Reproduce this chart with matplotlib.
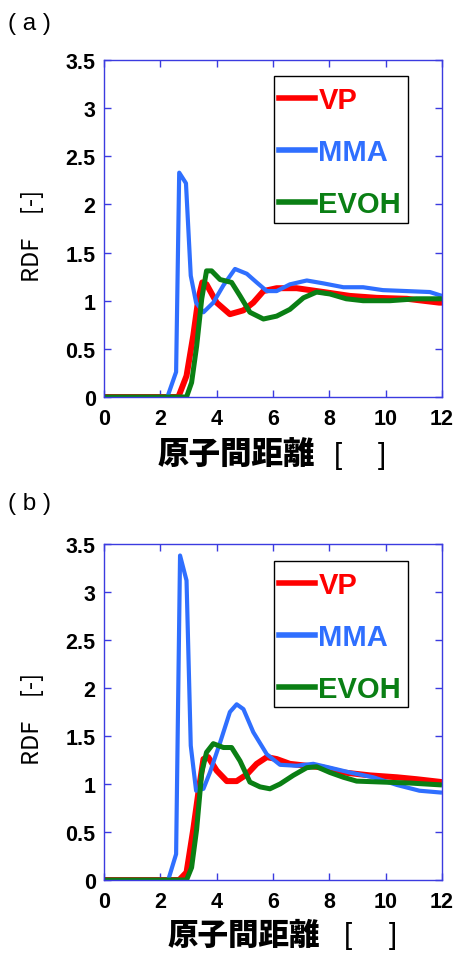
import matplotlib
matplotlib.use("Agg")
import matplotlib.pyplot as plt
from matplotlib.lines import Line2D
from matplotlib.patches import Rectangle

# ---------------- data ----------------
# panel (a)
a_vp_x = [0, 2.64, 2.93, 3.17, 3.35, 3.49, 3.64, 4.0, 4.47, 4.95, 5.3, 5.66, 6.13, 6.84, 7.8, 8.73, 9.68, 10.75, 11.9, 12]
a_vp_y = [0, 0, 0.22, 0.64, 1.02, 1.19, 1.17, 0.98, 0.86, 0.90, 0.98, 1.10, 1.13, 1.13, 1.09, 1.05, 1.03, 1.02, 0.98, 0.98]

a_mma_x = [0, 2.25, 2.56, 2.67, 2.91, 3.08, 3.27, 3.53, 3.88, 4.24, 4.65, 5.07, 5.42, 5.78, 6.13, 6.6, 7.2, 7.79, 8.5, 9.2, 9.9, 10.75, 11.57, 12]
a_mma_y = [0, 0, 0.26, 2.33, 2.22, 1.26, 0.98, 0.88, 0.98, 1.16, 1.33, 1.28, 1.19, 1.10, 1.10, 1.17, 1.21, 1.18, 1.14, 1.14, 1.11, 1.10, 1.09, 1.05]

a_evoh_x = [0, 2.93, 3.11, 3.29, 3.47, 3.64, 3.82, 4.12, 4.53, 4.83, 5.18, 5.66, 6.13, 6.6, 7.08, 7.55, 8.02, 8.6, 9.2, 10.15, 11.1, 12]
a_evoh_y = [0, 0, 0.15, 0.53, 1.02, 1.31, 1.31, 1.22, 1.19, 1.05, 0.88, 0.81, 0.84, 0.91, 1.03, 1.09, 1.07, 1.02, 1.00, 1.00, 1.02, 1.02]

# panel (b)
b_vp_x = [0, 2.67, 2.93, 3.17, 3.35, 3.53, 3.7, 4.0, 4.36, 4.71, 5.07, 5.42, 5.78, 6.13, 6.6, 7.2, 7.8, 8.5, 9.44, 10.4, 11.1, 12]
b_vp_y = [0, 0, 0.08, 0.53, 0.91, 1.26, 1.28, 1.14, 1.03, 1.03, 1.10, 1.21, 1.28, 1.26, 1.21, 1.19, 1.17, 1.12, 1.09, 1.07, 1.05, 1.02]

b_mma_x = [0, 2.28, 2.56, 2.7, 2.93, 3.08, 3.27, 3.53, 3.76, 4.12, 4.47, 4.71, 4.95, 5.3, 5.78, 6.25, 6.84, 7.43, 8.02, 8.73, 9.56, 10.4, 11.2, 12]
b_mma_y = [0, 0, 0.27, 3.38, 3.12, 1.40, 0.93, 0.95, 1.12, 1.43, 1.75, 1.83, 1.78, 1.54, 1.31, 1.20, 1.19, 1.21, 1.17, 1.12, 1.07, 0.99, 0.93, 0.91]

b_evoh_x = [0, 2.93, 3.11, 3.29, 3.47, 3.64, 3.88, 4.24, 4.53, 4.83, 5.18, 5.54, 5.89, 6.25, 6.72, 7.2, 7.55, 8.02, 8.5, 8.97, 9.9, 10.86, 12]
b_evoh_y = [0, 0, 0.13, 0.53, 1.12, 1.33, 1.42, 1.38, 1.38, 1.24, 1.02, 0.97, 0.95, 1.00, 1.09, 1.17, 1.18, 1.12, 1.07, 1.03, 1.02, 1.01, 0.99]

series_labels = ["VP", "MMA", "EVOH"]
panel_labels = ["( a )", "( b )"]
x_ticks = [0, 2, 4, 6, 8, 10, 12]
y_ticks = [0, 0.5, 1, 1.5, 2, 2.5, 3, 3.5]
y_tick_labels = ["0", "0.5", "1", "1.5", "2", "2.5", "3", "3.5"]
xlabel_main = "原子間距離"
xlabel_brackets = ["[", "]"]
ylabel = "RDF　[-]"

# ---------------- style ----------------
colors = ["#FF0000", "#2F6FFF", "#0A7F14"]
widths = [4.3, 3.0, 3.6]
spine_color = "#3B3BE0"
cjk = ["Noto Sans CJK JP", "DejaVu Sans"]

fig = plt.figure(figsize=(4.57, 9.54), dpi=100)
W, H = 457, 954

def fx(px):
    return px / W

def fy(py):
    return 1 - py / H

panels = [
    dict(top=61, bottom=398, data=[(a_vp_x, a_vp_y), (a_mma_x, a_mma_y), (a_evoh_x, a_evoh_y)],
         label_y=24, xl_y=455, xl_x=158, br=(338, 382), leg_top=77, leg_bot=224, xl_size=22.7),
    dict(top=545, bottom=881, data=[(b_vp_x, b_vp_y), (b_mma_x, b_mma_y), (b_evoh_x, b_evoh_y)],
         label_y=504, xl_y=935, xl_x=168, br=(348, 393), leg_top=562, leg_bot=708, xl_size=22),
]

for i, p in enumerate(panels):
    left, right = 104, 442
    aw, ah = right - left, p["bottom"] - p["top"]
    ax = fig.add_axes([fx(left), fy(p["bottom"]), aw / W, ah / H])
    for (xs, ys), c, lw, lab in zip(p["data"], colors, widths, series_labels):
        ax.plot(xs, ys, color=c, lw=lw, label=lab, solid_joinstyle="round", solid_capstyle="butt")
    ax.set_xlim(0, 12)
    ax.set_ylim(0, 3.5)
    ax.set_xticks(x_ticks)
    ax.set_yticks(y_ticks)
    ax.set_yticklabels(y_tick_labels)
    for s in ax.spines.values():
        s.set_color(spine_color)
        s.set_linewidth(1.0)
    ax.tick_params(direction="in", length=5, width=1.0, color=spine_color,
                   top=True, right=True, labelsize=15.5)
    ax.tick_params(axis="x", pad=8)
    ax.tick_params(axis="y", pad=6)
    for t in ax.get_xticklabels() + ax.get_yticklabels():
        t.set_fontfamily("Liberation Sans")
        t.set_fontweight("bold")
        t.set_color("black")

    # legend frame (pixel box converted to axes fraction)
    lx0, lx1 = 274, 408
    ax.add_patch(Rectangle(((lx0 - left) / aw, (p["bottom"] - p["leg_bot"]) / ah),
                           (lx1 - lx0) / aw, (p["leg_bot"] - p["leg_top"]) / ah,
                           transform=ax.transAxes, fill=True, facecolor="white",
                           edgecolor="black", lw=1.0, zorder=4, clip_on=False))
    handles = [Line2D([], [], color=c, lw=4.0) for c in colors]
    leg = ax.legend(handles, series_labels, loc="upper left",
                    bbox_to_anchor=((279 - left) / aw, 1 - (p["leg_top"] + 10 - p["top"]) / ah),
                    frameon=False,
                    prop=dict(family="Liberation Sans", weight="bold", size=21),
                    handlelength=1.25, handletextpad=0.1, labelspacing=0.82,
                    borderpad=0, borderaxespad=0)
    leg.set_zorder(5)
    for t, c in zip(leg.get_texts(), colors):
        t.set_color(c)

    # y label
    fig.text(fx(33), fy((p["top"] + p["bottom"]) / 2 + 6), ylabel, rotation=90,
             ha="center", va="center", fontsize=17, family=cjk)
    # panel label
    fig.text(fx(8), fy(p["label_y"]), panel_labels[i], ha="left", va="center",
             fontsize=17.5, family="Liberation Sans")
    # x label
    fig.text(fx(p["xl_x"]), fy(p["xl_y"]), xlabel_main, ha="left", va="center",
             fontsize=p["xl_size"], family=cjk, weight="black")
    for bx, bt in zip(p["br"], xlabel_brackets):
        fig.text(fx(bx), fy(p["xl_y"] + 1), bt, ha="center", va="center",
                 fontsize=21, family="Liberation Sans", weight="normal")

fig.savefig("out.png", dpi=100)
